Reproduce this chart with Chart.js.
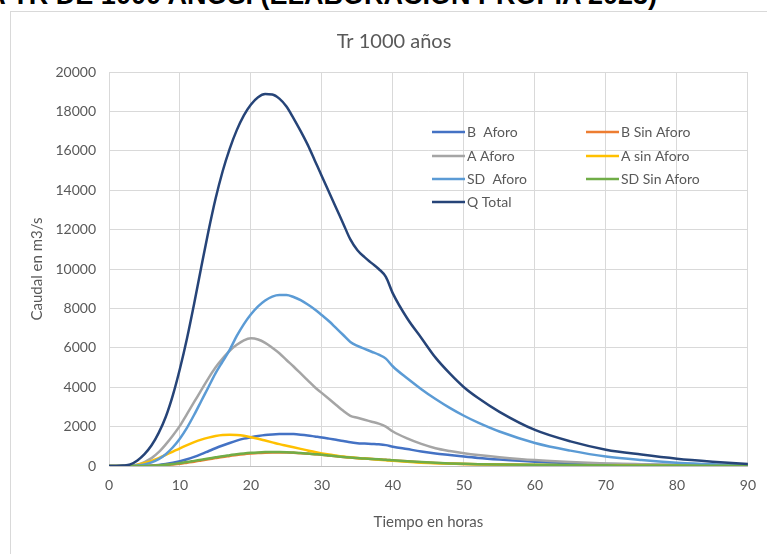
<!DOCTYPE html>
<html>
<head>
<meta charset="utf-8">
<script src="https://cdn.jsdelivr.net/npm/chart.js@4.4.1/dist/chart.umd.min.js"></script>
<style>
  html, body { margin:0; padding:0; background:#fff; }
  body { width:767px; height:554px; position:relative; overflow:hidden; }
  #caption { position:absolute; right:110px; top:-20px; white-space:nowrap;
    font-family:"Liberation Sans", Arial, sans-serif; font-weight:bold; font-size:27px; color:#000; }
  #box { position:absolute; left:10px; top:11px; width:800px; height:600px; border:1px solid #D9D9D9; box-sizing:border-box; }
  #wrap { position:absolute; left:0; top:0; width:767px; height:554px; }
</style>
</head>
<body>
<div id="caption">HIDROGRAMA PARA TR DE 1000 AÑOS. (ELABORACIÓN PROPIA 2023)</div>
<div id="box"></div>
<div id="wrap"><canvas id="c" width="767" height="554"></canvas></div>
<script>
const chartTitle = "Tr 1000 años";
const xTitle = "Tiempo en horas";
const yTitle = "Caudal en m3/s";
const seriesNames = ["B  Aforo", "B Sin Aforo", "A Aforo", "A sin Aforo", "SD  Aforo", "SD Sin Aforo", "Q Total"];
const seriesColors = ["#4472C4", "#ED7D31", "#A5A5A5", "#FFC000", "#5B9BD5", "#70AD47", "#264478"];

const hours = [0,1,2,3,4,5,6,7,8,9,10,11,12,13,14,15,16,17,18,19,20,21,22,23,24,25,26,27,28,29,30,31,32,33,34,35,36,37,38,39,40,
  42,44,46,48,50,52,55,60,65,70,75,80,85,90];

const bAforo = [0,0,0,0,0,0,20,50,100,160,240,340,460,600,750,900,1040,1170,1290,1390,1460,1520,1570,1600,1620,1630,1620,1590,1550,1500,1450,1390,1330,1270,1200,1160,1140,1120,1100,1060,980,
  860,740,640,560,480,410,330,220,150,100,70,50,30,20];
const bSinAforo = [0,0,0,0,0,0,10,25,45,80,120,170,220,280,340,400,460,510,560,600,630,655,670,680,685,680,670,650,625,600,570,530,490,455,425,395,375,355,335,315,285,
  235,195,155,125,105,90,75,55,40,30,20,15,10,5];
const aAforo = [0,0,0,0,60,200,400,700,1100,1550,2050,2650,3250,3850,4450,5000,5450,5850,6150,6380,6480,6420,6250,6000,5720,5380,5050,4700,4350,4000,3700,3400,3100,2800,2550,2450,2350,2250,2150,2000,1750,
  1400,1120,900,760,650,560,450,300,200,130,90,60,40,30];
const aSinAforo = [0,0,0,0,60,150,260,400,560,730,900,1060,1210,1340,1440,1520,1570,1580,1570,1530,1460,1380,1290,1200,1110,1030,950,870,790,710,640,580,530,480,440,410,380,350,320,290,260,
  210,170,140,120,100,85,70,50,40,30,20,15,10,10];
const sdAforo = [0,0,0,0,30,80,180,350,600,950,1400,1950,2600,3300,4000,4700,5300,5900,6600,7200,7700,8100,8400,8600,8680,8680,8580,8420,8200,7950,7650,7350,7000,6650,6300,6100,5950,5800,5650,5450,5050,
  4450,3900,3400,2950,2550,2200,1750,1170,780,480,300,170,90,50];
const sdSinAforo = [0,0,0,0,0,0,15,30,60,100,150,200,260,320,380,440,500,550,600,640,670,690,705,710,710,700,680,660,630,600,570,530,490,460,430,400,380,360,340,320,290,
  240,200,160,130,110,95,80,60,45,35,25,20,15,10];
const qTotal = [0,0,20,80,280,600,1050,1680,2500,3600,4950,6500,8250,10100,11900,13550,14950,16100,17050,17800,18350,18720,18880,18860,18650,18250,17650,17000,16300,15500,14700,13900,13100,12300,11500,10950,10600,10300,10000,9600,8750,
  7500,6500,5500,4700,4000,3450,2750,1830,1250,830,580,370,220,100];

const seriesValues = [bAforo, bSinAforo, aAforo, aSinAforo, sdAforo, sdSinAforo, qTotal];
const xTicks = [0,10,20,30,40,50,60,70,80,90];
const yTicks = [0,2000,4000,6000,8000,10000,12000,14000,16000,18000,20000];

const FONT = "Lato, 'Open Sans', sans-serif";
const TXT = "#595959";

const datasets = seriesNames.map((name, i) => ({
  label: name,
  data: hours.map((h, k) => ({x: h, y: seriesValues[i][k]})),
  borderColor: seriesColors[i],
  backgroundColor: seriesColors[i],
  borderWidth: 2.5,
  pointRadius: 0,
  cubicInterpolationMode: 'monotone',
  fill: false,
  order: seriesNames.length - i
}));

const overlay = {
  id: 'overlay',
  afterDraw(chart) {
    const ctx = chart.ctx;
    ctx.save();
    ctx.fillStyle = TXT;
    ctx.font = "20px " + FONT;
    ctx.textAlign = 'center';
    ctx.textBaseline = 'middle';
    ctx.fillText(chartTitle, 394, 42);
    ctx.font = "14px " + FONT;
    ctx.textAlign = 'left';
    const cols = [432, 586];
    const rows = [132, 156, 179, 202];
    chart.data.datasets.forEach((ds, i) => {
      const cx = cols[i % 2], cy = rows[Math.floor(i / 2)];
      ctx.strokeStyle = ds.borderColor;
      ctx.lineWidth = 2.5;
      ctx.beginPath();
      ctx.moveTo(cx, cy);
      ctx.lineTo(cx + 33, cy);
      ctx.stroke();
      ctx.fillStyle = TXT;
      ctx.fillText(ds.label, cx + 35, cy);
    });
    ctx.restore();
  }
};

new Chart(document.getElementById('c'), {
  type: 'line',
  data: { datasets },
  options: {
    responsive: false,
    animation: false,
    layout: { padding: { left: 0, top: 72, right: 18, bottom: 0 } },
    plugins: { legend: { display: false }, title: { display: false }, tooltip: { enabled: false } },
    scales: {
      x: {
        type: 'linear', min: 0, max: 90,
        afterBuildTicks(s) { s.ticks = xTicks.map(v => ({value: v})); },
        afterFit(s) { s.height = 88; },
        grid: { color: '#D9D9D9', lineWidth: 1, drawTicks: false },
        border: { color: '#BFBFBF', width: 1 },
        ticks: { color: TXT, font: { family: FONT, size: 14 }, padding: 11, maxRotation: 0, callback: v => String(v) },
        title: { display: true, text: xTitle, color: TXT, font: { family: FONT, size: 15 }, padding: { top: 0, bottom: 23 } }
      },
      y: {
        type: 'linear', min: 0, max: 20000,
        afterBuildTicks(s) { s.ticks = yTicks.map(v => ({value: v})); },
        afterFit(s) { s.width = 109; },
        grid: { color: '#D9D9D9', lineWidth: 1, drawTicks: false },
        border: { color: '#D9D9D9', width: 1 },
        ticks: { color: TXT, font: { family: FONT, size: 14 }, padding: 13, callback: v => String(v) },
        title: { display: true, text: yTitle, color: TXT, font: { family: FONT, size: 15 }, padding: { top: 28, bottom: 0 } }
      }
    }
  },
  plugins: [overlay]
});
</script>
</body>
</html>
